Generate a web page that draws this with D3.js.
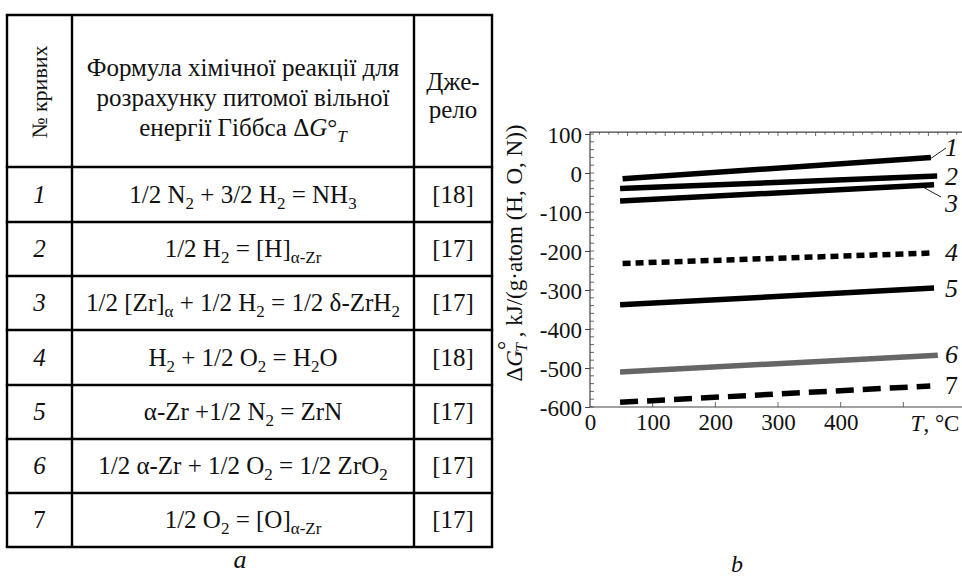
<!DOCTYPE html>
<html>
<head>
<meta charset="utf-8">
<script src="https://cdn.jsdelivr.net/npm/d3@7"></script>
<style>
  body { margin: 0; background: #fff; }
</style>
</head>
<body>
<script>
// curve numbers, formulas (segments: [text, sub?]) and sources
var curveIds = ["1", "2", "3", "4", "5", "6", "7"];
var formulas = [
  [["1/2 N"], ["2", 1], [" + 3/2 H"], ["2", 1], [" = NH"], ["3", 1]],
  [["1/2 H"], ["2", 1], [" = [H]"], ["α-Zr", 1]],
  [["1/2 [Zr]"], ["α", 1], [" + 1/2 H"], ["2", 1], [" = 1/2 δ-ZrH"], ["2", 1]],
  [["H"], ["2", 1], [" + 1/2 O"], ["2", 1], [" = H"], ["2", 1], ["O"]],
  [["α-Zr +1/2 N"], ["2", 1], [" = ZrN"]],
  [["1/2 α-Zr + 1/2 O"], ["2", 1], [" = 1/2 ZrO"], ["2", 1]],
  [["1/2 O"], ["2", 1], [" = [O]"], ["α-Zr", 1]]
];
var sources = ["[18]", "[17]", "[17]", "[18]", "[17]", "[17]", "[17]"];

// chart values: temperature (°C) and ΔG°T at both ends of each line
var tStart = [52, 48, 48, 52, 48, 48, 48];
var tEnd = [544, 554, 549, 549, 549, 555, 543];
var gStart = [-15, -40, -72, -232, -338, -510, -588];
var gEnd = [40, -8, -30, -205, -295, -467, -546];
var xTicks = [0, 100, 200, 300, 400];
var yTicks = [100, 0, -100, -200, -300, -400, -500, -600];

var width = 962, height = 581;
var serif = "Liberation Serif";
var svg = d3.select("body").append("svg")
    .attr("width", width)
    .attr("height", height);

// ---------- table (a) ----------
var colX = [7, 72, 414, 492];
var rowY = [15, 167, 222, 276, 330, 385, 439, 493, 547];
var tbl = svg.append("g");
var fs = 25;

rowY.forEach(function(y) {
  tbl.append("line").attr("x1", colX[0] - 1.2).attr("x2", colX[3] + 1.2)
    .attr("y1", y).attr("y2", y).attr("stroke", "#000").attr("stroke-width", 2.4);
});
colX.forEach(function(x) {
  tbl.append("line").attr("x1", x).attr("x2", x)
    .attr("y1", rowY[0]).attr("y2", rowY[rowY.length - 1])
    .attr("stroke", "#000").attr("stroke-width", 2.4);
});

// header
tbl.append("text").attr("transform", "translate(47,92) rotate(-90)")
  .attr("text-anchor", "middle").style("font-size", "22px").text("№ кривих");
var hx = (colX[1] + colX[2]) / 2;
tbl.append("text").attr("x", hx).attr("y", 76).attr("text-anchor", "middle")
  .style("font-size", fs + "px").text("Формула хімічної реакції для");
tbl.append("text").attr("x", hx).attr("y", 106).attr("text-anchor", "middle")
  .style("font-size", fs + "px").text("розрахунку питомої вільної");
var h3 = tbl.append("text").attr("x", hx).attr("y", 136).attr("text-anchor", "middle")
  .style("font-size", fs + "px");
h3.append("tspan").text("енергії Гіббса Δ");
h3.append("tspan").style("font-style", "italic").text("G");
h3.append("tspan").text("°");
h3.append("tspan").style("font-style", "italic").style("font-size", "17px").attr("dy", 6).text("T");
var sx = (colX[2] + colX[3]) / 2;
tbl.append("text").attr("x", sx).attr("y", 90).attr("text-anchor", "middle")
  .style("font-size", fs + "px").text("Дже-");
tbl.append("text").attr("x", sx).attr("y", 118).attr("text-anchor", "middle")
  .style("font-size", fs + "px").text("рело");

// rows
curveIds.forEach(function(id, i) {
  var cy = (rowY[i + 1] + rowY[i + 2]) / 2 + 8;
  tbl.append("text").attr("x", (colX[0] + colX[1]) / 2).attr("y", cy)
    .attr("text-anchor", "middle").style("font-size", fs + "px")
    .style("font-style", id === "7" ? "normal" : "italic").text(id);
  var t = tbl.append("text").attr("x", hx).attr("y", cy)
    .attr("text-anchor", "middle").style("font-size", fs + "px");
  var shifted = false;
  formulas[i].forEach(function(seg) {
    var ts = t.append("tspan").text(seg[0]);
    if (seg[1]) {
      ts.style("font-size", "17px").attr("dy", shifted ? 0 : 6);
      shifted = true;
    } else if (shifted) {
      ts.attr("dy", -6);
      shifted = false;
    }
  });
  tbl.append("text").attr("x", sx).attr("y", cy)
    .attr("text-anchor", "middle").style("font-size", fs + "px").text(sources[i]);
});

svg.append("text").attr("x", 240).attr("y", 568).attr("text-anchor", "middle")
  .style("font-size", "26px").style("font-style", "italic").text("a");

// ---------- chart (b) ----------
var x = d3.scaleLinear().domain([0, 600]).range([590, 966]);
var y = d3.scaleLinear().domain([-600, 100]).range([407, 134]);
var axisColor = "#444";
var ch = svg.append("g");

// frame: left and top, bottom axis
ch.append("path")
  .attr("d", "M" + x(0) + "," + y(-600) + "V" + y(105) + "H" + width)
  .attr("fill", "none").attr("stroke", axisColor).attr("stroke-width", 1.2);
ch.append("line").attr("x1", x(0)).attr("x2", width)
  .attr("y1", y(-600)).attr("y2", y(-600))
  .attr("stroke", axisColor).attr("stroke-width", 1.2);

// left axis: major ticks outward, minor ticks inward
var yAxis = ch.append("g").attr("transform", "translate(" + x(0) + ",0)")
  .call(d3.axisLeft(y).tickValues(yTicks).tickSize(5).tickFormat(function(d) { return d; }));
yAxis.select(".domain").remove();
yAxis.selectAll(".tick line").attr("stroke", axisColor);
yAxis.selectAll(".tick text").style("font-size", "23px")
  .attr("x", -8).attr("dy", "0.35em");
ch.selectAll(".yminor").data(d3.range(-600, 105, 20)).enter().append("line")
  .attr("x1", x(0)).attr("x2", x(0) + 4)
  .attr("y1", function(d) { return y(d); }).attr("y2", function(d) { return y(d); })
  .attr("stroke", axisColor).attr("stroke-width", 0.8);

// bottom axis: ticks pointing inward
var xAxis = ch.append("g").attr("transform", "translate(0," + y(-600) + ")")
  .call(d3.axisBottom(x).tickValues(xTicks.concat([500])).tickSize(0).tickPadding(7));
xAxis.select(".domain").remove();
xAxis.selectAll(".tick text").style("font-size", "23px")
  .text(function(d) { return d === 500 ? "" : d; });
ch.selectAll(".xtick").data([100, 200, 300, 400, 500]).enter().append("line")
  .attr("x1", function(d) { return x(d); }).attr("x2", function(d) { return x(d); })
  .attr("y1", y(-600)).attr("y2", y(-600) - 5)
  .attr("stroke", axisColor).attr("stroke-width", 0.8);
var tl = ch.append("text").attr("x", 935).attr("y", 431)
  .attr("text-anchor", "middle").style("font-size", "23px");
tl.append("tspan").style("font-style", "italic").text("T");
tl.append("tspan").text(", °C");

// top minor ticks
ch.selectAll(".topminor").data(d3.range(15, 600, 15)).enter().append("line")
  .attr("x1", function(d) { return x(d); }).attr("x2", function(d) { return x(d); })
  .attr("y1", y(105)).attr("y2", function(d, i) { return y(105) + (i % 4 === 3 ? 4 : 2.5); })
  .attr("stroke", axisColor).attr("stroke-width", 0.8);

// y axis title
var yl = ch.append("text").attr("transform", "translate(522,253) rotate(-90)")
  .attr("text-anchor", "middle").style("font-size", "23px");
yl.append("tspan").text("Δ");
yl.append("tspan").style("font-style", "italic").text("G");
yl.append("tspan").attr("dy", -8).text("°");
yl.append("tspan").style("font-style", "italic").style("font-size", "16px").attr("dx", -11).attr("dy", 13).text("T");
yl.append("tspan").attr("dy", -5).text(" , kJ/(g·atom (H, O, N))");

// lines
var lineStyles = [
  { color: "#000", dash: null },
  { color: "#000", dash: null },
  { color: "#000", dash: null },
  { color: "#000", dash: "8,5" },
  { color: "#000", dash: null },
  { color: "#666", dash: null },
  { color: "#000", dash: "18,9" }
];
var lineGen = d3.line().x(function(d) { return x(d[0]); }).y(function(d) { return y(d[1]); });
curveIds.forEach(function(id, i) {
  ch.append("path")
    .datum([[tStart[i], gStart[i]], [tEnd[i], gEnd[i]]])
    .attr("d", lineGen)
    .attr("fill", "none")
    .attr("stroke", lineStyles[i].color)
    .attr("stroke-width", 5.5)
    .attr("stroke-dasharray", lineStyles[i].dash);
});

// curve labels
var labelPos = [[945, 156], [945, 185], [945, 212], [945, 261], [945, 297], [945, 363], [945, 394]];
curveIds.forEach(function(id, i) {
  ch.append("text").attr("x", labelPos[i][0]).attr("y", labelPos[i][1])
    .style("font-size", "26px").style("font-style", id === "7" ? "normal" : "italic").text(id);
});
// leader lines for 1 and 3
ch.append("line").attr("x1", x(tEnd[0])).attr("y1", y(gEnd[0]) + 1)
  .attr("x2", 946).attr("y2", 148).attr("stroke", "#222").attr("stroke-width", 1);
ch.append("line").attr("x1", x(tEnd[2]) - 10).attr("y1", y(gEnd[2]) + 3)
  .attr("x2", 941).attr("y2", 197).attr("stroke", "#222").attr("stroke-width", 1);

svg.append("text").attr("x", 737).attr("y", 572).attr("text-anchor", "middle")
  .style("font-size", "24px").style("font-style", "italic").text("b");

// serif on every text element, set inline
svg.selectAll("text, tspan").style("font-family", serif).style("fill", "#111");
svg.selectAll("g").attr("font-family", null);
</script>
</body>
</html>
